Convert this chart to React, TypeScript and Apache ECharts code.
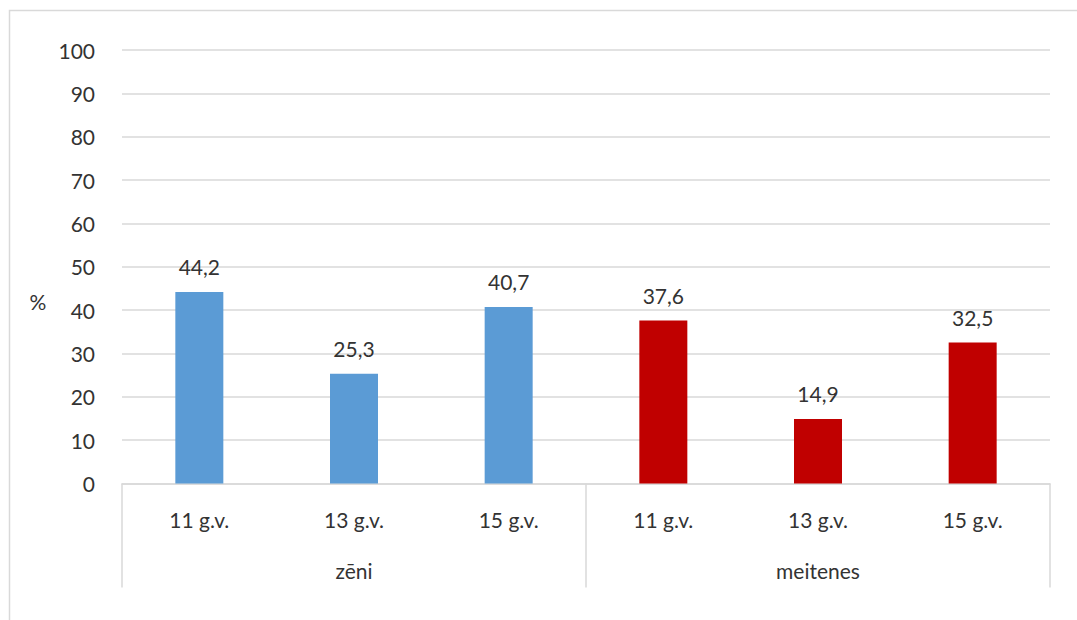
import React, { useEffect, useRef } from "react";
import * as echarts from "echarts";

const ageGroups = ["11 g.v.", "13 g.v.", "15 g.v.", "11 g.v.", "13 g.v.", "15 g.v."];
const genders = ["zēni", "meitenes"];
const values = [44.2, 25.3, 40.7, 37.6, 14.9, 32.5];
const barColors = ["#5B9BD5", "#5B9BD5", "#5B9BD5", "#C00000", "#C00000", "#C00000"];
const yTicks = { min: 0, max: 100, interval: 10 };

const FONT = "Lato, 'Open Sans', sans-serif";
const FONT_SIZE = 21;
const TEXT = "#333333";
const LINE = "#d9d9d9";

export default function App() {
  const ref = useRef<HTMLDivElement>(null);

  useEffect(() => {
    if (!ref.current) return;
    const chart = echarts.init(ref.current, null, { renderer: "svg" });
    chart.setOption({
      animation: false,
      backgroundColor: "#ffffff",
      textStyle: { fontFamily: FONT },
      grid: { left: 122, right: 27, top: 50, bottom: 136.5, containLabel: false },
      graphic: [
        {
          type: "rect",
          shape: { x: 9.5, y: 10.5, width: 1100, height: 640 },
          style: { fill: "none", stroke: LINE, lineWidth: 1.5 },
          silent: true,
        },
        {
          type: "text",
          x: 38,
          y: 301,
          style: {
            text: "%",
            fill: TEXT,
            font: `${FONT_SIZE}px ${FONT}`,
            align: "center",
            verticalAlign: "middle",
          },
        },
      ],
      xAxis: [
        {
          type: "category",
          data: ageGroups,
          position: "bottom",
          axisLine: { show: true, lineStyle: { color: LINE, width: 1.5 } },
          axisTick: { show: false },
          axisLabel: { color: TEXT, fontSize: FONT_SIZE, fontFamily: FONT, margin: 25 },
          splitLine: { show: false },
        },
        {
          type: "category",
          data: genders,
          position: "bottom",
          axisLine: { show: false },
          axisTick: { show: true, length: 104, lineStyle: { color: LINE, width: 1.5 } },
          axisLabel: { color: TEXT, fontSize: FONT_SIZE, fontFamily: FONT, margin: 76 },
          splitLine: { show: false },
        },
      ],
      yAxis: {
        type: "value",
        min: yTicks.min,
        max: yTicks.max,
        interval: yTicks.interval,
        axisLine: { show: false },
        axisTick: { show: false },
        axisLabel: { color: TEXT, fontSize: FONT_SIZE, fontFamily: FONT, margin: 27 },
        splitLine: { show: true, lineStyle: { color: LINE, width: 1.5 } },
      },
      series: [
        {
          type: "bar",
          xAxisIndex: 0,
          barWidth: 48,
          data: values.map((v, i) => ({ value: v, itemStyle: { color: barColors[i] } })),
          label: {
            show: true,
            position: "top",
            distance: 15,
            color: TEXT,
            fontSize: FONT_SIZE,
            fontFamily: FONT,
            formatter: (p: any) => String(p.value).replace(".", ","),
          },
        },
      ],
    });
    return () => chart.dispose();
  }, []);

  return (
    <div
      ref={ref}
      style={{ position: "fixed", left: 0, top: 0, width: 1077, height: 620 }}
    />
  );
}
